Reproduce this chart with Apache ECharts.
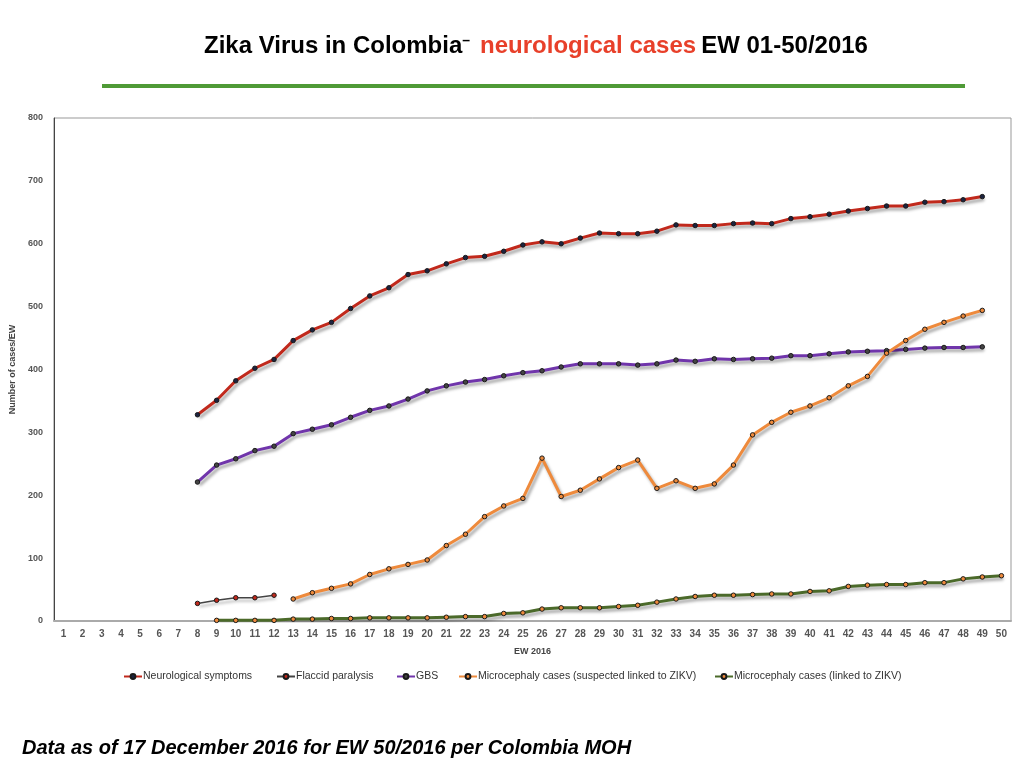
<!DOCTYPE html>
<html>
<head>
    <meta charset="utf-8">
    <title>Zika Virus in Colombia - neurological cases</title>
    <script src="https://cdn.jsdelivr.net/npm/echarts@6/dist/echarts.min.js"></script>
    <style>
        html, body { margin: 0; padding: 0; background: #fff; }
        #main { width: 1024px; height: 768px; }
    </style>
</head>
<body>
    <div id="main"></div>
    <script type="text/javascript">
        // epidemiological weeks 1..50
        var weeks = [];
        for (var w = 1; w <= 50; w++) weeks.push(String(w));

        // values, each list starts at the given week
        var neuroStart = 8;
        var neuroValues = [328, 351, 382, 402, 416, 446, 463, 475, 497, 517, 530, 551, 557, 568, 578, 580, 588, 598, 603, 600, 609,
            617, 616, 616, 620, 630, 629, 629, 632, 633, 632, 640, 643, 647, 652, 656, 660, 660, 666, 667, 670, 675];

        var flaccidStart = 8;
        var flaccidValues = [28, 33, 37, 37, 41];

        var gbsStart = 8;
        var gbsValues = [221, 248, 258, 271, 278, 298, 305, 312, 324, 335, 342, 353, 366, 374, 380, 384, 390, 395, 398, 404, 409,
            409, 409, 407, 409, 415, 413, 417, 416, 417, 418, 422, 422, 425, 428, 429, 430, 432, 434, 435, 435, 436];

        var microSuspStart = 13;
        var microSuspValues = [35, 45, 52, 59, 74, 83, 90, 97, 120, 138, 166, 183, 195, 259, 198, 208, 226, 244, 256, 211, 223,
            211, 218, 248, 296, 316, 332, 342, 355, 374, 389, 426, 446, 464, 475, 485, 494];

        var microLinkStart = 9;
        var microLinkValues = [1, 1, 1, 1, 3, 3, 4, 4, 5, 5, 5, 5, 6, 7, 7, 12, 13, 19, 21, 21, 21, 23, 25, 30, 35, 39, 41, 41, 42,
            43, 43, 47, 48, 55, 57, 58, 58, 61, 61, 67, 70, 72];

        var yTicks = [0, 100, 200, 300, 400, 500, 600, 700, 800];

        function pad(start, values) { // fill the weeks before/after with null
            var out = [];
            for (var i = 1; i <= weeks.length; i++) {
                var v = values[i - start];
                out.push(v === undefined ? null : v);
            }
            return out;
        }

        var shadow = {
            shadowColor: 'rgba(0,0,0,0.35)',
            shadowBlur: 3,
            shadowOffsetX: 2,
            shadowOffsetY: 3
        };

        function makeSeries(name, data, lineColor, width, dotColor) {
            return {
                name: name,
                type: 'line',
                data: data,
                symbol: 'circle',
                symbolSize: 4.5,
                connectNulls: false,
                itemStyle: { color: dotColor, borderColor: '#1a1a1a', borderWidth: 1 },
                lineStyle: Object.assign({ color: lineColor, width: width }, shadow),
                emphasis: { disabled: true }
            };
        }

        var names = ['Neurological symptoms', 'Flaccid paralysis', 'GBS',
            'Microcephaly cases (suspected linked to ZIKV)', 'Microcephaly cases (linked to ZIKV)'];
        var legendLeft = [123, 276, 396, 458, 714];

        var legends = names.map(function(n, i) {
            return {
                data: [n],
                left: legendLeft[i],
                top: 671,
                padding: 0,
                itemWidth: 18,
                itemHeight: 6,
                itemGap: 0,
                selectedMode: false,
                textStyle: { fontFamily: 'Liberation Sans', fontSize: 10.5, color: '#333', padding: [0, 0, 0, -4] }
            };
        });

        var myChart = echarts.init(document.getElementById('main'));
        var option = {
            animation: false,
            backgroundColor: '#fff',
            title: {
                text: '{a|Zika Virus in Colombia}{d|–}  {r|neurological cases} {a|EW 01-50/2016}',
                left: 199,
                top: 29,
                textStyle: {
                    rich: {
                        a: { fontFamily: 'Liberation Sans', fontWeight: 'bold', fontSize: 24, color: '#000' },
                        d: { fontFamily: 'Liberation Sans', fontWeight: 'bold', fontSize: 14, color: '#000', verticalAlign: 'top', padding: [0, 0, 9, 0] },
                        r: { fontFamily: 'Liberation Sans', fontWeight: 'bold', fontSize: 24, color: '#e8402a' }
                    }
                }
            },
            graphic: [{
                type: 'rect',
                shape: { x: 102, y: 84, width: 863, height: 4 },
                style: { fill: '#4f9a36' }
            }, {
                type: 'text',
                left: 22,
                top: 738,
                style: {
                    text: 'Data as of 17 December 2016 for EW 50/2016 per Colombia MOH',
                    font: 'italic bold 20px "Liberation Sans"',
                    fill: '#000'
                }
            }],
            legend: legends,
            grid: {
                left: 51,
                right: 13,
                top: 118,
                bottom: 147,
                show: true,
                borderColor: '#999',
                borderWidth: 1
            },
            xAxis: {
                type: 'category',
                data: weeks,
                boundaryGap: true,
                name: 'EW 2016',
                nameLocation: 'middle',
                nameGap: 26,
                nameTextStyle: { fontFamily: 'Liberation Sans', fontSize: 9, fontWeight: 'bold', color: '#444' },
                axisLine: { lineStyle: { color: '#aaa', width: 2 } },
                axisTick: { show: false },
                axisLabel: { interval: 0, margin: 8, fontFamily: 'Liberation Sans', fontSize: 10, fontWeight: 'bold', color: '#555' },
                splitLine: { show: false }
            },
            yAxis: {
                type: 'value',
                min: yTicks[0],
                max: yTicks[yTicks.length - 1],
                interval: 100,
                name: 'Number of cases/EW',
                nameLocation: 'middle',
                nameGap: 34,
                nameTextStyle: { fontFamily: 'Liberation Sans', fontSize: 9, fontWeight: 'bold', color: '#444' },
                axisLine: { show: true, lineStyle: { color: '#444', width: 1 } },
                axisTick: { show: false },
                axisLabel: { margin: 11, fontFamily: 'Liberation Sans', fontSize: 9, fontWeight: 'bold', color: '#555' },
                splitLine: { show: false }
            },
            series: [
                makeSeries(names[0], pad(neuroStart, neuroValues), '#c1291c', 3, '#1c2340'),
                makeSeries(names[1], pad(flaccidStart, flaccidValues), '#444', 1.5, '#c1291c'),
                makeSeries(names[2], pad(gbsStart, gbsValues), '#7035ab', 3, '#444'),
                makeSeries(names[3], pad(microSuspStart, microSuspValues), '#ee8a3c', 3, '#ee8a3c'),
                makeSeries(names[4], pad(microLinkStart, microLinkValues), '#4b6a2a', 3, '#ee8a3c')
            ]
        };
        myChart.setOption(option);
        window.onresize = myChart.resize;
    </script>
</body>
</html>
